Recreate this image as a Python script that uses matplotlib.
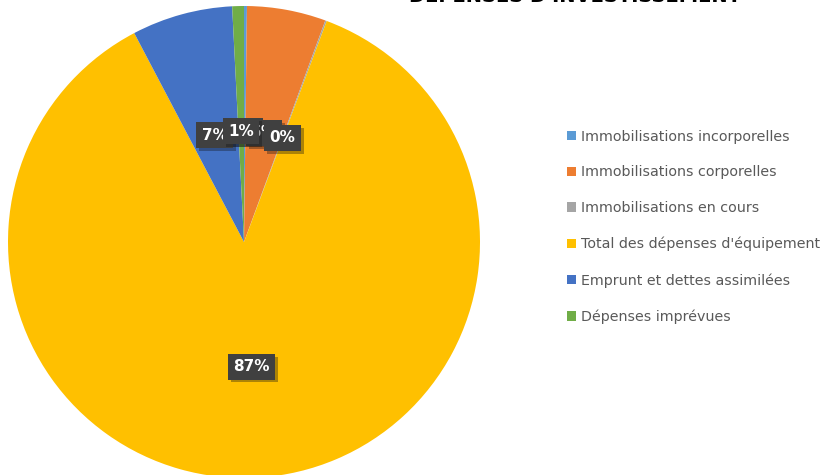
import matplotlib.pyplot as plt
import matplotlib.patheffects as pe
import numpy as np

# -------------------------------------------------
# data
# -------------------------------------------------
categories = [
    "Immobilisations incorporelles",
    "Immobilisations corporelles",
    "Immobilisations en cours",
    "Total des dépenses d'équipement",
    "Emprunt et dettes assimilées",
    "Dépenses imprévues",
]
values = [0.2, 5.4, 0.1, 86.6, 6.9, 0.8]
colors = ["#5B9BD5", "#ED7D31", "#A5A5A5", "#FFC000", "#4472C4", "#70AD47"]
title = "DÉPENSES D'INVESTISSEMENT"

# -------------------------------------------------
# figure
# -------------------------------------------------
W, H = 836, 475
fig = plt.figure(figsize=(W / 100, H / 100), dpi=100)
fig.patch.set_facecolor("white")

cx, cy, r = 244, 242, 236
ax = fig.add_axes([(cx - r) / W, (H - cy - r) / H, 2 * r / W, 2 * r / H])

wedges, _ = ax.pie(values, colors=colors, startangle=90, counterclock=False,
                   radius=1, wedgeprops=dict(linewidth=0))
ax.set_xlim(-1, 1)
ax.set_ylim(-1, 1)
ax.set_aspect("equal")
ax.axis("off")

# data labels (percent), drawn in series order like Excel
total = sum(values)
for w, v in zip(wedges, values):
    ang = np.deg2rad((w.theta1 + w.theta2) / 2)
    dist = 0.53 if v > 50 else 0.47
    t = ax.text(dist * np.cos(ang), dist * np.sin(ang), f"{v / total * 100:.0f}%",
                ha="center", va="center", color="white", fontsize=11,
                fontweight="bold",
                bbox=dict(boxstyle="square,pad=0.35", fc="#404040", ec="none"))
    t.get_bbox_patch().set_path_effects(
        [pe.SimplePatchShadow(offset=(2, -2), alpha=0.35), pe.Normal()])

# legend
fig.legend(wedges, categories, loc="upper left",
           bbox_to_anchor=(561 / W, 1 - 124 / H), frameon=False,
           fontsize=10.3, labelcolor="#595959",
           handlelength=0.65, handleheight=0.65, handletextpad=0.35,
           labelspacing=1.52, borderaxespad=0)

# title cut at the top edge
fig.text(575 / W, 1 - 2 / H, title, ha="center", va="baseline",
         fontsize=14, fontweight="bold", color="black")

fig.savefig("out.png", dpi=100)
